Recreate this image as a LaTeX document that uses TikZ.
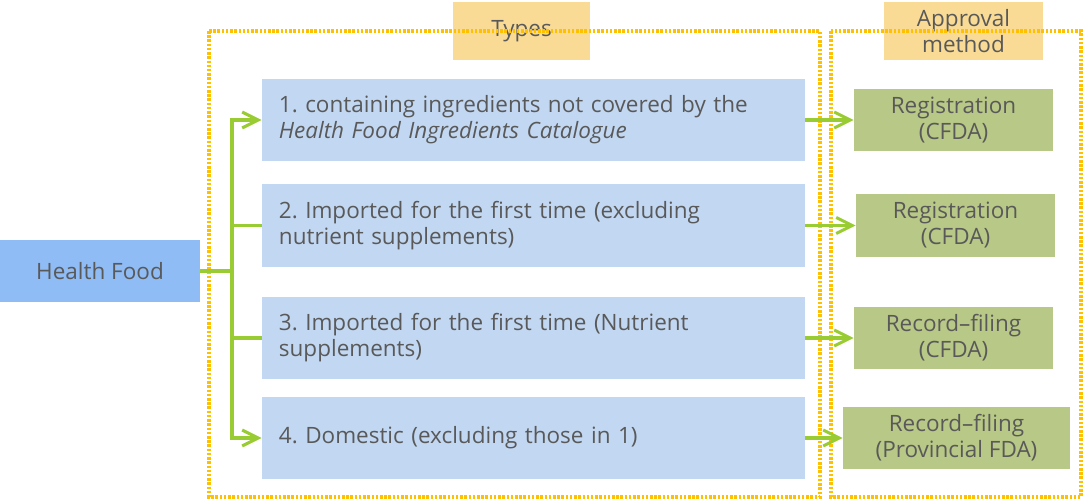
\documentclass[tikz,border=0pt]{standalone}
\usepackage{fontspec}
\setmainfont{Open Sans}
\usetikzlibrary{arrows.meta}
\definecolor{foodBlue}{HTML}{8FBCF5}
\definecolor{typeBlue}{HTML}{C2D7F1}
\definecolor{methodGreen}{HTML}{B8C886}
\definecolor{headOrange}{HTML}{F9DB95}
\definecolor{frameOrange}{HTML}{FFC000}
\definecolor{arrowGreen}{HTML}{99CC33}
\definecolor{textGray}{HTML}{595959}
\frenchspacing
\begin{document}
\begin{tikzpicture}
[x=0.025cm,y=-0.025cm,
  every node/.style={text=textGray,font=\fontsize{16pt}{18.5pt}\selectfont},
  lineDecorate/.style={-,line width=2.2pt,arrowGreen},
  arrowDecorate/.style={lineDecorate,-{Straight Barb[length=0.4cm,width=0.4cm,line width=2.2pt]}},
  frameDecorate/.style={draw=frameOrange,line width=2.4pt,dash pattern=on 1.8pt off 1.2pt},
  headDecorate/.style={fill=headOrange,inner sep=0pt,align=center},
  typeDecorate/.style={fill=typeBlue,inner sep=0pt,minimum width=13.575cm,minimum height=2.05cm,
    text width=12.725cm,align=left},
  methodDecorate/.style={fill=methodGreen,inner sep=0pt,minimum height=1.55cm,align=center}]
\useasboundingbox (0,0) rectangle (1084,499);
%% header labels
\node (typesHead) at (521.5,31) [headDecorate,minimum width=3.425cm,minimum height=1.45cm] {Types};
\node (methodHead) at (963.5,31) [headDecorate,minimum width=3.975cm,minimum height=1.45cm] {Approval\\method};
%% dotted frames
\draw[frameDecorate] (209,31) rectangle (820,497);
\draw[frameDecorate] (831,31) rectangle (1081,497);
%% main node
\node (food) at (100,271) [fill=foodBlue,minimum width=5cm,minimum height=1.55cm] {Health Food};
%% types
\foreach \nodename/\y/\txt in {
  t1/120/{1. containing ingredients not covered by the\\\textit{Health Food Ingredients Catalogue}},
  t2/225.5/{2. Imported for the first time (excluding\\nutrient supplements)},
  t3/338/{3. Imported for the first time (Nutrient\\supplements)},
  t4/438/{4. Domestic (excluding those in 1)}}
{
  \node (\nodename) at (533.5,\y) [typeDecorate] {\txt};
}
%% approval methods
\foreach \nodename/\x/\y/\w/\txt in {
  a1/953.5/120/4.975/{Registration\\(CFDA)},
  a2/955.5/225.5/4.975/{Registration\\(CFDA)},
  a3/953.5/338/4.975/{Record–filing\\(CFDA)},
  a4/956.5/438/5.675/{Record–filing\\(Provincial FDA)}}
{
  \node (\nodename) at (\x,\y) [methodDecorate,minimum width=\w cm] {\txt};
}
%% edges or lines
\coordinate (hub) at (232,271);
\draw[lineDecorate] (food.east) -- (hub);
\draw[arrowDecorate] (hub) |- (t1.west);
\draw[lineDecorate] (hub) |- (t2.west);
\draw[lineDecorate] (hub) |- (t3.west);
\draw[arrowDecorate] (hub) |- (t4.west);
\foreach \startnode/\endnode in {t1/a1, t2/a2, t3/a3, t4/a4}
{
  \draw[arrowDecorate] (\startnode.east) -- (\endnode.west);
}
\end{tikzpicture}
\end{document}
